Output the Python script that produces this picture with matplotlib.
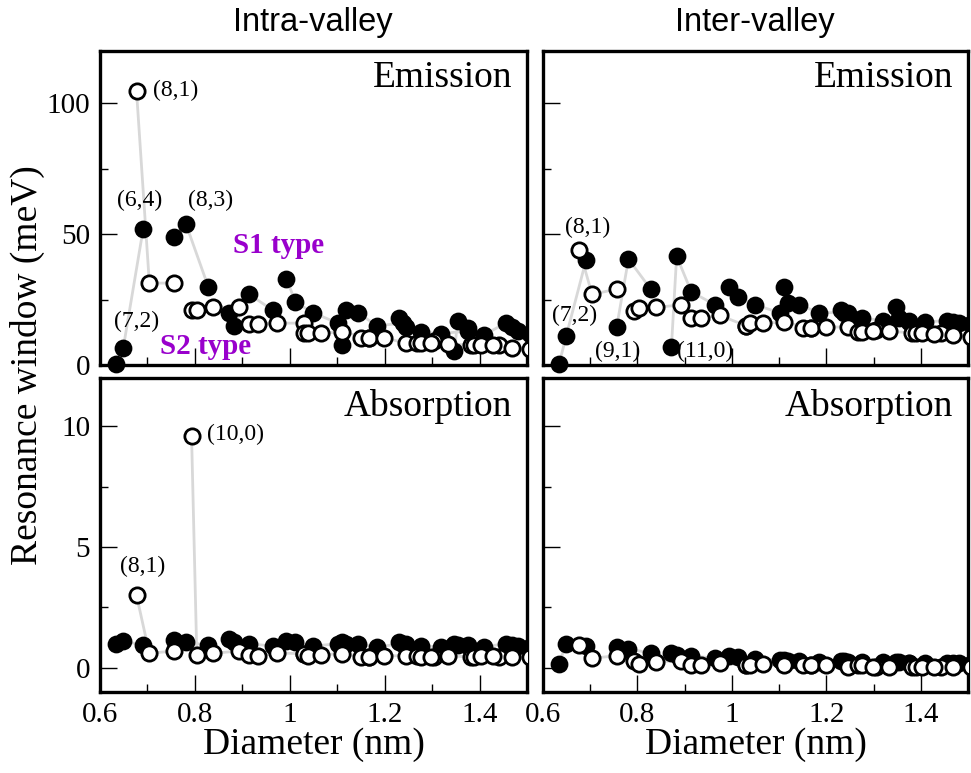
import numpy as np
import matplotlib.pyplot as plt
from matplotlib.ticker import MultipleLocator, FormatStrFormatter
from matplotlib.transforms import Bbox, TransformedBbox

# tube diameters (nm) and their 2n+m family, S1 type (filled) and S2 type (open)
s1_d = [0.634, 0.649, 0.691, 0.756, 0.781, 0.828, 0.872, 0.883, 0.914, 0.964,
        0.993, 1.012, 1.049, 1.101, 1.110, 1.118, 1.143, 1.184, 1.238, 1.230,
        1.246, 1.276, 1.319, 1.375, 1.347, 1.354, 1.375, 1.409, 1.455, 1.512,
        1.468, 1.481, 1.506]
s1_fam = [16, 16, 16, 19, 19, 19, 22, 22, 22, 22,
          25, 25, 25, 25, 28, 28, 28, 28, 28, 31,
          31, 31, 31, 31, 34, 34, 34, 34, 34, 34,
          37, 37, 37]
s2_d = [0.677, 0.704, 0.756, 0.793, 0.804, 0.839, 0.893, 0.914, 0.934, 0.974,
        1.030, 1.030, 1.039, 1.066, 1.110, 1.168, 1.151, 1.168, 1.199, 1.246,
        1.305, 1.268, 1.276, 1.298, 1.333, 1.382, 1.442, 1.389, 1.402, 1.429,
        1.468, 1.518, 1.506]
s2_fam = [17, 17, 17, 20, 20, 20, 20, 23, 23, 23,
          23, 26, 26, 26, 26, 26, 29, 29, 29, 29,
          29, 32, 32, 32, 32, 32, 32, 35, 35, 35,
          35, 35, 38]

# resonance window (meV)
intra_em_s1 = [0.3, 6.5, 52, 49, 54, 30, 20, 15, 27, 21,
               33, 24, 20, 16, 7.6, 21, 20, 15, 16, 18,
               14.5, 12.6, 12, 13, 5.3, 17, 14, 11.5, 16, 13,
               14.5, 13, 12]
intra_em_s2 = [104.6, 31.3, 31.3, 21, 21, 22, 22, 15.6, 15.6, 16,
               16, 12.2, 12.2, 12.2, 12.6, 10.3, 10.3, 10.3, 10.3, 8.4,
               9.2, 8.4, 8.4, 8.4, 8.0, 7.6, 7.6, 7.6, 7.6, 7.6,
               6.5, 6.0, 6.0]
inter_em_s1 = [0.3, 11, 40, 14.5, 40.5, 29, 7, 41.6, 28, 23,
               30, 26, 23, 20, 30, 23.7, 23, 20, 20, 21,
               20, 18, 17, 16.4, 22, 18, 17, 16.4, 17, 16,
               16.5, 16, 15.5]
inter_em_s2 = [44, 27, 29, 20.6, 21.7, 22, 23, 18, 18, 19,
               15, 15, 16, 16, 16.4, 14, 14, 14, 14.5, 14.5,
               13.4, 12.6, 12.6, 13, 13, 12.2, 12.2, 12.2, 12.2, 12,
               11.5, 10.7, 10.7]
intra_ab_s1 = [1.0, 1.1, 0.95, 1.15, 1.05, 0.95, 1.2, 1.07, 1.0, 0.9,
               1.1, 1.07, 0.9, 1.0, 1.07, 1.0, 1.0, 0.87, 1.0, 1.07,
               1.0, 0.9, 0.87, 0.95, 1.0, 0.95, 0.9, 0.87, 1.0, 0.9,
               0.95, 0.9, 0.85]
intra_ab_s2 = [3.0, 0.6, 0.7, 9.6, 0.55, 0.6, 0.7, 0.55, 0.5, 0.62,
               0.58, 0.58, 0.5, 0.55, 0.58, 0.45, 0.45, 0.45, 0.5, 0.5,
               0.45, 0.5, 0.45, 0.45, 0.5, 0.45, 0.45, 0.45, 0.5, 0.5,
               0.45, 0.45, 0.45]
inter_ab_s1 = [0.17, 1.0, 0.9, 0.85, 0.8, 0.6, 0.6, 0.55, 0.5, 0.4,
               0.5, 0.45, 0.37, 0.33, 0.33, 0.3, 0.3, 0.25, 0.3, 0.3,
               0.25, 0.25, 0.25, 0.2, 0.25, 0.25, 0.2, 0.2, 0.2, 0.15,
               0.2, 0.18, 0.15]
inter_ab_s2 = [0.95, 0.4, 0.5, 0.3, 0.15, 0.25, 0.3, 0.1, 0.12, 0.2,
               0.1, 0.12, 0.12, 0.17, 0.1, 0.1, 0.1, 0.1, 0.1, 0.05,
               0.05, 0.1, 0.1, 0.05, 0.05, 0.05, 0.05, 0.05, 0.05, 0.05,
               0.05, 0.05, 0.05]

serif = 'Liberation Serif'
plt.rcParams['font.family'] = serif
plt.rcParams['mathtext.fontset'] = 'stix'

W, H = 971, 773
fig = plt.figure(figsize=(W / 100, H / 100), dpi=100)


def box(x0, y0, x1, y1):
    return [x0 / W, 1 - y1 / H, (x1 - x0) / W, (y1 - y0) / H]


ax_tl = fig.add_axes(box(100, 51, 527, 365))
ax_tr = fig.add_axes(box(543, 51, 968, 365))
ax_bl = fig.add_axes(box(100, 378, 527, 692))
ax_br = fig.add_axes(box(543, 378, 968, 692))

line_col = '#d8d8d8'


def draw(ax, v1, v2):
    clip = TransformedBbox(Bbox([[-0.05, -0.08], [1.0, 1.0]]), ax.transAxes)
    for d, v, fam in ((s1_d, v1, s1_fam), (s2_d, v2, s2_fam)):
        d = np.array(d)
        v = np.array(v)
        fam = np.array(fam)
        for f in np.unique(fam):
            idx = np.where(fam == f)[0]
            idx = idx[np.argsort(d[idx])]
            ln, = ax.plot(d[idx], v[idx], color=line_col, lw=2, zorder=1)
            ln.set_clip_box(clip)
    pts = ax.plot(s1_d, v1, 'o', ls='none', ms=11, mfc='black', mec='black',
                  mew=1.8, zorder=2)
    pts += ax.plot(s2_d, v2, 'o', ls='none', ms=11, mfc='white', mec='black',
                   mew=2.0, zorder=3)
    for p in pts:
        p.set_clip_box(clip)


draw(ax_tl, intra_em_s1, intra_em_s2)
draw(ax_tr, inter_em_s1, inter_em_s2)
draw(ax_bl, intra_ab_s1, intra_ab_s2)
draw(ax_br, inter_ab_s1, inter_ab_s2)

for ax in (ax_tl, ax_tr, ax_bl, ax_br):
    ax.set_xlim(0.6, 1.5)
    ax.xaxis.set_major_locator(MultipleLocator(0.2))
    ax.xaxis.set_minor_locator(MultipleLocator(0.1))
    ax.xaxis.set_major_formatter(FormatStrFormatter('%g'))
    ax.tick_params(which='both', direction='in', width=1, labelsize=21,
                   top=False, right=False, pad=7)
    ax.tick_params(which='major', length=12)
    ax.tick_params(which='minor', length=6)
    for s in ax.spines.values():
        s.set_linewidth(2.4)

for ax in (ax_tl, ax_tr):
    ax.set_ylim(0, 120)
    ax.yaxis.set_major_locator(MultipleLocator(50))
    ax.yaxis.set_minor_locator(MultipleLocator(25))
    ax.tick_params(labelbottom=False)
    ax.text(0.965, 0.915, 'Emission', transform=ax.transAxes, fontsize=27,
            ha='right', va='center')
for ax in (ax_bl, ax_br):
    ax.set_ylim(-1, 12)
    ax.yaxis.set_major_locator(MultipleLocator(5))
    ax.yaxis.set_minor_locator(MultipleLocator(2.5))
    ax.text(0.965, 0.908, 'Absorption', transform=ax.transAxes, fontsize=27,
            ha='right', va='center')
    ax.set_xlabel('Diameter (nm)', fontsize=27, labelpad=0)
for ax in (ax_tr, ax_br):
    ax.tick_params(labelleft=False)

# chirality labels
lab = 17
ax_tl.text(0.712, 105, '(8,1)', fontsize=lab, ha='left', va='center')
ax_tl.text(0.684, 63, '(6,4)', fontsize=lab, ha='center', va='center')
ax_tl.text(0.832, 63, '(8,3)', fontsize=lab, ha='center', va='center')
ax_tl.text(0.678, 16.5, '(7,2)', fontsize=lab, ha='center', va='center')
purple = '#9900cc'
ax_tl.text(0.88, 45.5, 'S1 type', fontsize=21, fontweight='bold', color=purple,
           ha='left', va='center')
ax_tl.text(0.726, 7, 'S2 type', fontsize=21, fontweight='bold', color=purple,
           ha='left', va='center')

ax_tr.text(0.647, 52.5, '(8,1)', fontsize=lab, ha='left', va='center')
ax_tr.text(0.666, 19, '(7,2)', fontsize=lab, ha='center', va='center')
ax_tr.text(0.757, 5, '(9,1)', fontsize=lab, ha='center', va='center')
ax_tr.text(0.884, 5, '(11,0)', fontsize=lab, ha='left', va='center')

ax_bl.text(0.689, 4.2, '(8,1)', fontsize=lab, ha='center', va='center')
ax_bl.text(0.825, 9.65, '(10,0)', fontsize=lab, ha='left', va='center')

title_font = ['Liberation Sans', 'DejaVu Sans']
fig.text(313 / W, 1 - 23 / H, 'Intra-valley', fontsize=23.5, family=title_font,
         ha='center', va='center')
fig.text(755 / W, 1 - 23 / H, 'Inter-valley', fontsize=23.5, family=title_font,
         ha='center', va='center')
fig.text(27 / W, 1 - 365 / H, 'Resonance window (meV)', fontsize=27,
         rotation=90, ha='center', va='center')

fig.savefig('out.png', dpi=100)
